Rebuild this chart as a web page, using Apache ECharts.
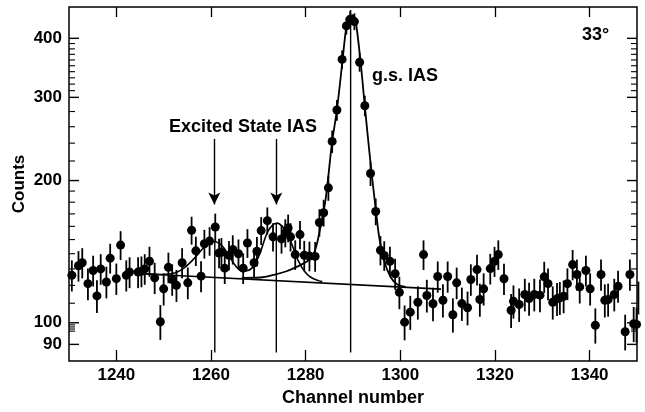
<!DOCTYPE html>
<html>
<head>
<meta charset="utf-8">
<script src="https://cdn.jsdelivr.net/npm/echarts@6.0.0/dist/echarts.min.js"></script>
<style>
  html, body { margin: 0; padding: 0; background: #fff; }
  #chart { width: 645px; height: 412px; }
</style>
</head>
<body>
<div id="chart"></div>
<script>
// measured spectrum points (channel, counts)
const channels = [
  1230.6, 1232.0, 1232.8, 1234.0, 1235.1, 1235.9, 1236.7, 1237.9, 1238.7, 1240.0,
  1240.9, 1242.1, 1242.8, 1244.6, 1245.3, 1246.0, 1247.0, 1248.1, 1249.3, 1250.0,
  1251.0, 1251.8, 1252.7, 1253.9, 1255.1, 1255.9, 1256.8, 1257.9, 1258.6, 1259.7,
  1260.9, 1261.7, 1262.2, 1262.9, 1263.8, 1264.6, 1265.8, 1266.8, 1267.7, 1269.1,
  1269.7, 1270.6, 1271.9, 1273.1, 1274.9, 1275.7, 1276.3, 1276.8, 1277.8, 1278.8,
  1279.7, 1280.8, 1282.0, 1282.9, 1283.8, 1284.8, 1285.6, 1286.6, 1287.7, 1288.6,
  1289.4, 1290.3, 1291.4, 1292.5, 1293.7, 1294.8, 1295.8, 1296.6, 1297.8, 1298.9,
  1299.8, 1300.9, 1302.1, 1303.7, 1304.9, 1305.6, 1306.9, 1307.9, 1309.0, 1310.0,
  1311.1, 1311.9, 1313.0, 1314.2, 1314.9, 1316.2, 1316.8, 1317.6, 1319.0, 1319.9,
  1320.7, 1321.9, 1323.4, 1323.9, 1325.1, 1326.3, 1327.2, 1328.3, 1329.5, 1330.4,
  1331.2, 1332.2, 1333.1, 1333.7, 1334.5, 1335.3, 1336.4, 1337.3, 1337.9, 1339.2,
  1340.1, 1341.2, 1342.4, 1343.2, 1343.9, 1345.2, 1346.0, 1347.5, 1348.5, 1349.3,
  1349.9, 1350.3
];
const counts = [
  126, 132, 134, 121, 129, 114, 130, 122, 137, 124,
  146, 126, 128, 128, 128.5, 130, 135, 124.5, 100.5, 118,
  131, 123.5, 120, 134, 121.5, 157, 142, 125.5, 147, 149,
  159.5, 140.5, 141, 130.5, 139, 143, 140, 130.5, 147.5, 134,
  141.7, 156.7, 164.5, 152, 150.5, 155, 158.7, 152, 139.4, 153.7,
  139, 138.5, 138.2, 163, 171, 193, 242, 282, 361, 425,
  439, 434, 356, 288, 207, 172, 142.4, 138.8, 135, 127,
  116, 100.3, 105.3, 110.5, 139.4, 114.2, 109.7, 125.3, 111.6, 125.3,
  104, 121.5, 109.8, 107.6, 123.5, 129.6, 112, 118, 130.2, 134.9,
  139.4, 123.9, 106.3, 111, 109.3, 114.8, 112.5, 114.8, 114.4, 125.1,
  121, 110.5, 112.4, 112.9, 113.8, 121, 132.8, 126.5, 119.1, 129,
  118, 98.8, 126.5, 111.6, 112, 114.8, 119.5, 95.7, 126.5, 99.5,
  99.2, 113.2
];
// statistical error bars, scaled relative to sqrt(N)
const ERR_SCALE = 0.85;

// fit curves
const excitedFitCh = [
  1245.5, 1249.8, 1252.3, 1254.4, 1256.2, 1258.7, 1260.4, 1262.3, 1264.0, 1265.3,
  1266.5, 1267.8, 1269.1, 1270.4, 1271.8, 1272.9, 1274.0, 1275.0, 1276.1, 1277.2,
  1278.4, 1279.7, 1281.0, 1282.7, 1283.5
];
const excitedFitVal = [
  127.0, 126.5, 127.4, 130.9, 136, 145, 148.8, 145.7, 137.5, 131.5,
  128.7, 129.0, 132.2, 140.8, 154.5, 160.6, 162.5, 160.2, 154.5, 145.6,
  135.5, 128.7, 125.0, 122.8, 122.2
];
const gsFitCh = [
  1266.5, 1270.4, 1273.5, 1276.1, 1278.2, 1279.9, 1281.4, 1282.3, 1283.1, 1284.2,
  1285.6, 1286.6, 1287.8, 1288.6, 1289.3, 1289.9, 1290.5, 1291.6, 1292.5, 1293.7,
  1294.8, 1295.5, 1296.5, 1298.0, 1299.4, 1301.1
];
const gsFitVal = [
  124.5, 124.7, 126.5, 128.7, 131.5, 134.1, 138, 146, 159, 182,
  242, 282, 360, 423, 444, 448, 439, 357, 287, 218,
  174, 152.5, 136, 124.7, 120.5, 119.1
];
const backgroundCh = [1245.5, 1308.6];
const backgroundVal = [127.0, 117.8];

// vertical marker lines and arrows
const dropCh = [1260.8, 1273.8, 1289.5];
const dropTop = [149, 162.5, 459];
const dropBottom = 86.5;
const arrowCh = [1260.7, 1273.8];
const arrowTop = 245;
const arrowTip = 178;

// axes
const xMin = 1230, xMax = 1350;
const xTicks = [1240, 1260, 1280, 1300, 1320, 1340];
const yMin = 83, yMax = 466;
const yLabels = [90, 100, 200, 300, 400];
const yMinor = [96, 97, 98, 99, 110, 120, 130, 140, 150, 160, 170, 180, 190,
  220, 240, 260, 280, 310, 320, 330, 340, 350, 360, 370, 380, 390];
const MAJOR_LEN = 10, MINOR_LEN = 6;

const FONT = "'Liberation Sans', Arial, Helvetica, sans-serif";

const chart = echarts.init(document.getElementById("chart"), null, { renderer: "canvas" });

const points = channels.map((c, i) => [c, counts[i]]);
const errors = channels.map((c, i) => {
  const e = Math.sqrt(counts[i]) * ERR_SCALE;
  return [c, counts[i] - e, counts[i] + e];
});
const drops = dropCh.map((c, i) => [c, dropBottom, dropTop[i]]);
const yTickData = yLabels.map((v) => [v, MAJOR_LEN]).concat(yMinor.map((v) => [v, MINOR_LEN]));

const vbarRender = (width) => (params, api) => {
  const x = api.value(0);
  const p1 = api.coord([x, api.value(2)]);
  const p2 = api.coord([x, api.value(1)]);
  return {
    type: "line",
    shape: { x1: p1[0], y1: p1[1], x2: p2[0], y2: p2[1] },
    style: { stroke: "#000", lineWidth: width },
  };
};

// y ticks on both frame sides, placed through the log axis
const yTickRender = (params, api) => {
  const v = api.value(0);
  const len = api.value(1);
  const l = api.coord([xMin, v]);
  const r = api.coord([xMax, v]);
  const w = len === MAJOR_LEN ? 1.4 : 1.1;
  return {
    type: "group",
    children: [
      { type: "line", shape: { x1: l[0], y1: l[1], x2: l[0] + len, y2: l[1] }, style: { stroke: "#000", lineWidth: w } },
      { type: "line", shape: { x1: r[0] - len, y1: r[1], x2: r[0], y2: r[1] }, style: { stroke: "#000", lineWidth: w } },
    ],
  };
};

const option = {
  animation: false,
  grid: {
    left: 69,
    right: 8,
    top: 7,
    bottom: 51,
    show: true,
    borderColor: "#000",
    borderWidth: 1.5,
    backgroundColor: "transparent",
  },
  xAxis: [
    {
      type: "value",
      min: xMin,
      max: xMax,
      position: "bottom",
      name: "Channel number",
      nameLocation: "middle",
      nameGap: 28,
      nameMoveOverlap: false,
      nameTextStyle: { fontFamily: FONT, fontSize: 18, fontWeight: "bold", color: "#000" },
      axisLine: { show: false },
      axisTick: { show: true, inside: true, length: 11, customValues: xTicks, lineStyle: { color: "#000", width: 1.3 } },
      axisLabel: {
        customValues: xTicks,
        formatter: (v) => String(v),
        margin: 6,
        fontFamily: FONT,
        fontSize: 17,
        fontWeight: "bold",
        color: "#000",
      },
      splitLine: { show: false },
    },
    {
      type: "value",
      min: xMin,
      max: xMax,
      position: "top",
      axisLine: { show: false },
      axisTick: { show: true, inside: true, length: 10, customValues: xTicks, lineStyle: { color: "#000", width: 1.3 } },
      axisLabel: { show: false },
      splitLine: { show: false },
    },
  ],
  yAxis: {
    type: "log",
    logBase: 10,
    min: yMin,
    max: yMax,
    position: "left",
    name: "Counts",
    nameLocation: "middle",
    nameGap: 41,
    nameMoveOverlap: false,
    nameTextStyle: { fontFamily: FONT, fontSize: 17, fontWeight: "bold", color: "#000" },
    axisLine: { show: false },
    axisTick: { show: false },
    splitLine: { show: false },
    axisLabel: { show: true, customValues: yLabels, margin: 7, fontFamily: FONT, fontSize: 17, fontWeight: "bold", color: "#000" },
  },
  graphic: [
    { type: "text", left: 582, top: 26, style: { text: "33°", font: `bold 18px ${FONT}`, fill: "#000" } },
    { type: "text", left: 372, top: 67, style: { text: "g.s. IAS", font: `bold 18px ${FONT}`, fill: "#000" } },
    { type: "text", left: 169, top: 118, style: { text: "Excited State IAS", font: `bold 18px ${FONT}`, fill: "#000" } },
  ],
  series: [
    {
      name: "y ticks",
      type: "custom",
      renderItem: yTickRender,
      encode: { x: -1, y: 0 },
      data: yTickData,
      z: 5,
    },
    {
      name: "drops",
      type: "custom",
      renderItem: vbarRender(1.4),
      encode: { x: 0, y: [1, 2] },
      data: drops,
      silent: true,
      z: 1,
    },
    {
      name: "background",
      type: "line",
      data: backgroundCh.map((c, i) => [c, backgroundVal[i]]),
      showSymbol: false,
      symbol: "none",
      lineStyle: { color: "#000", width: 1.6 },
      z: 2,
      markLine: {
        silent: true,
        symbol: ["none", "arrow"],
        symbolSize: [9, 12],
        label: { show: false },
        lineStyle: { color: "#000", width: 1.4, type: "solid" },
        data: arrowCh.map((c) => [{ coord: [c, arrowTop] }, { coord: [c, arrowTip] }]),
      },
    },
    {
      name: "excited fit",
      type: "line",
      data: excitedFitCh.map((c, i) => [c, excitedFitVal[i]]),
      smooth: 0.35,
      showSymbol: false,
      symbol: "none",
      lineStyle: { color: "#000", width: 1.6 },
      z: 2,
    },
    {
      name: "g.s. fit",
      type: "line",
      data: gsFitCh.map((c, i) => [c, gsFitVal[i]]),
      smooth: 0.3,
      showSymbol: false,
      symbol: "none",
      lineStyle: { color: "#000", width: 1.8 },
      z: 2,
    },
    {
      name: "errors",
      type: "custom",
      renderItem: vbarRender(1.8),
      encode: { x: 0, y: [1, 2] },
      data: errors,
      silent: true,
      z: 3,
    },
    {
      name: "data",
      type: "scatter",
      data: points,
      symbol: "circle",
      symbolSize: 9,
      itemStyle: { color: "#000", opacity: 1 },
      z: 4,
    },
  ],
};

chart.setOption(option);
</script>
</body>
</html>
